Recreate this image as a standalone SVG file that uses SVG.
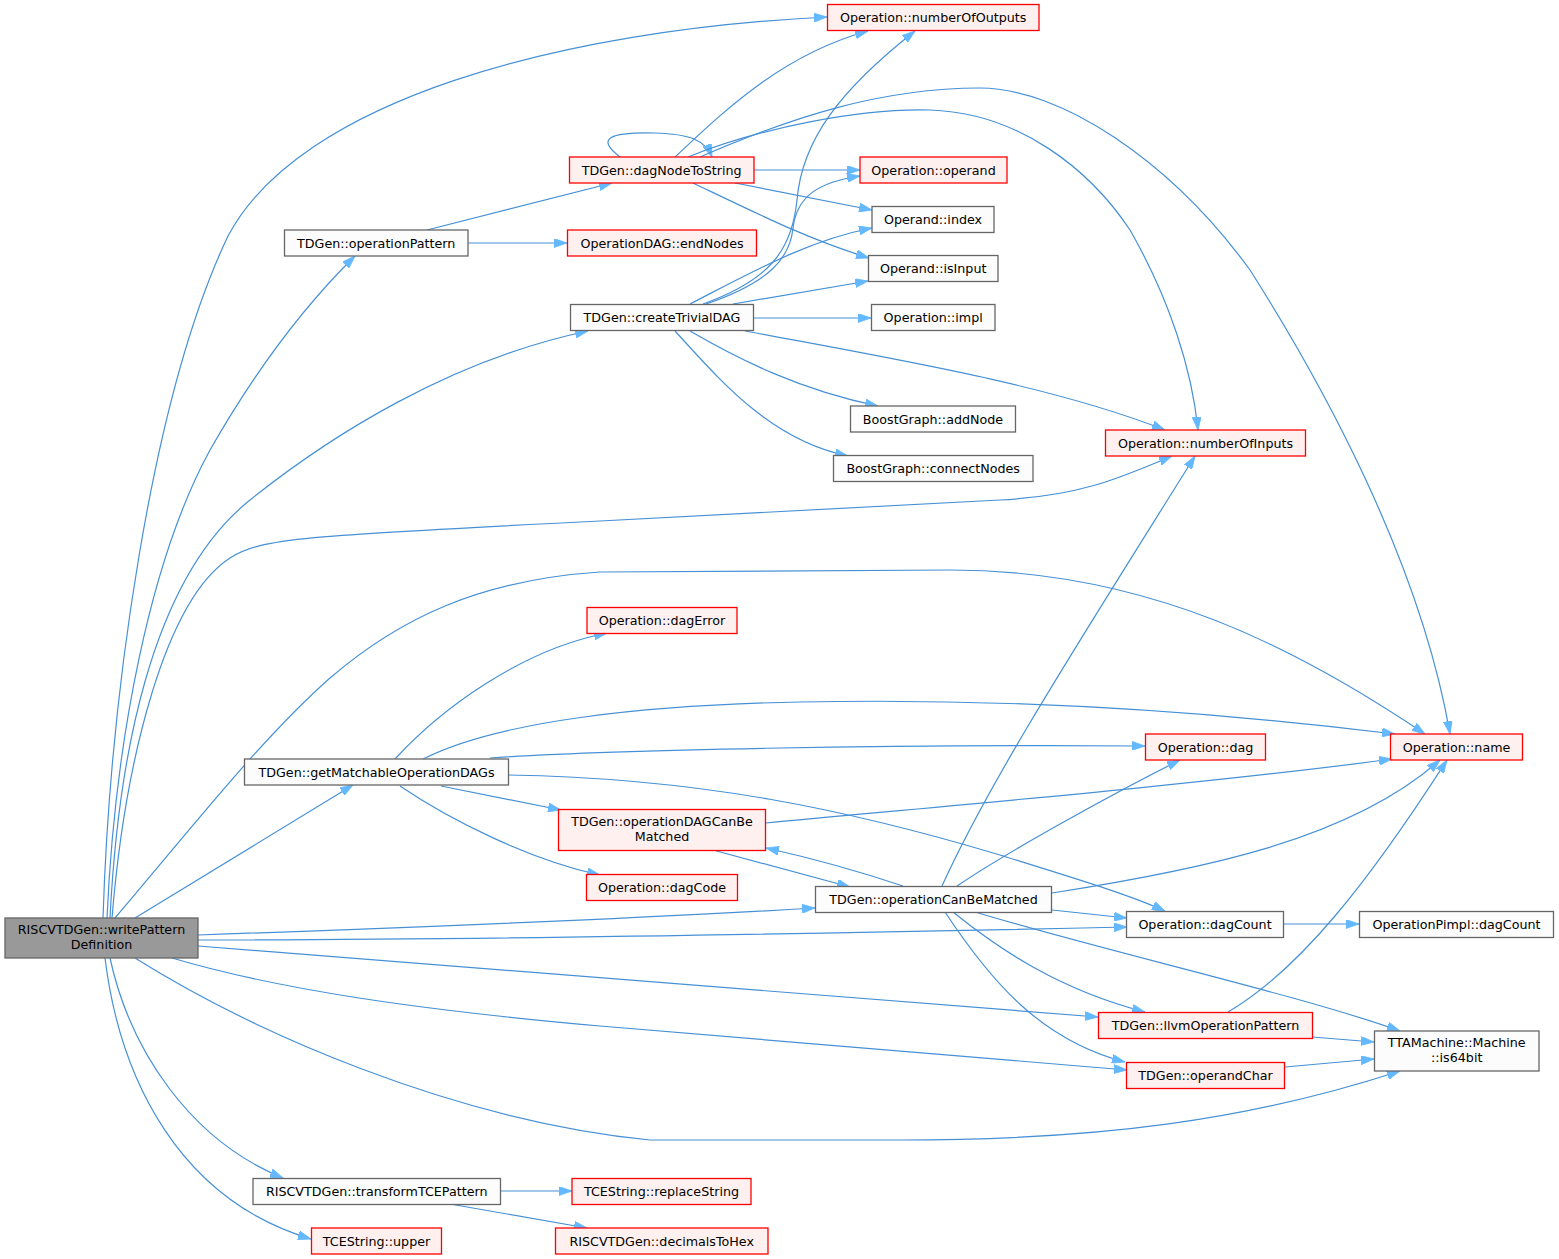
<svg xmlns="http://www.w3.org/2000/svg" width="1559" height="1259" viewBox="0 0 1559 1259">
<style>
.n rect{stroke-width:1.3}
.w rect{fill:#fbfcfb;stroke:#666666}
.r rect{fill:#fff0f0;stroke:#ff0000}
.g rect{fill:#999999;stroke:#666666}
text{font-family:"DejaVu Sans","Liberation Sans",sans-serif;font-size:12.7px;fill:#000;text-anchor:middle}
#edges path{fill:none;stroke:#4690d6;stroke-width:1.2;marker-end:url(#arr)}
</style>
<defs>
<marker id="arr" viewBox="0 0 13 9" refX="13" refY="4.5" markerWidth="13" markerHeight="9" markerUnits="userSpaceOnUse" orient="auto">
<path d="M0,0 L13,4.5 L0,9 z" fill="#63b8ff" stroke="#63b8ff" stroke-width="0.8"/>
</marker>
</defs>
<rect width="1559" height="1259" fill="#ffffff"/>
<g id="edges">
<path d="M103,918 C110,700 150,400 228,236 C300,100 560,30 827,17"/>
<path d="M107,918 C115,740 150,560 210,450 C250,380 300,310 355,256"/>
<path d="M110,918 C118,760 150,580 250,500 C330,436 450,360 588,331"/>
<path d="M112,918 C125,760 165,600 230,558 C262,538 300,536 600,521 L1000,500 C1080,496 1120,478 1172,456"/>
<path d="M115,918 C190,830 260,740 330,678 C400,618 480,580 600,572 L950,570 C1150,570 1300,650 1425,734"/>
<path d="M135,918 L353,785"/>
<path d="M198,935 C400,928 650,918 815,908"/>
<path d="M198,940 C500,940 900,932 1127,927"/>
<path d="M198,946 L1098,1017"/>
<path d="M172,958 C280,990 420,1010 600,1026 C800,1044 1000,1060 1127,1070"/>
<path d="M135,958 C250,1030 450,1120 650,1140 L900,1140 C1100,1140 1250,1120 1400,1071"/>
<path d="M110,958 C130,1050 190,1140 283,1178"/>
<path d="M105,958 C120,1080 180,1200 311,1239"/>
<path d="M427,230 L612,183"/>
<path d="M468,243 L567,243"/>
<path d="M620,157 C595,138 610,132 655,133 C690,134 705,140 712,157"/>
<path d="M675,157 C720,115 780,55 868,31"/>
<path d="M754,170 L860,170"/>
<path d="M735,183 L872,210"/>
<path d="M693,183 C760,215 810,240 869,258"/>
<path d="M688,157 C760,128 860,108 930,110 C1020,113 1090,170 1130,230 C1170,300 1192,370 1198,430"/>
<path d="M700,157 C790,118 880,88 980,88 C1060,88 1170,160 1250,270 C1320,380 1420,560 1450,734"/>
<path d="M703,304 C770,280 792,250 797,200 C802,140 840,90 915,31"/>
<path d="M706,304 C770,282 790,258 793,228 C797,195 820,182 860,176"/>
<path d="M690,304 C760,268 810,240 872,228"/>
<path d="M733,304 L868,281"/>
<path d="M754,318 L871,318"/>
<path d="M690,331 C740,360 800,390 878,406"/>
<path d="M675,331 C720,380 770,440 848,456"/>
<path d="M745,331 C900,360 1050,385 1165,430"/>
<path d="M395,759 C440,710 520,650 607,633"/>
<path d="M423,759 C500,720 650,705 800,702 C1000,698 1200,710 1395,734"/>
<path d="M490,758 C600,750 900,744 1145,746"/>
<path d="M441,786 L561,810"/>
<path d="M400,786 C450,820 530,860 600,875"/>
<path d="M508,775 C700,778 850,810 1000,855 C1080,880 1130,895 1165,911"/>
<path d="M766,823 C900,810 1200,785 1392,759"/>
<path d="M713,850 L850,887"/>
<path d="M903,886 C870,875 820,860 766,848"/>
<path d="M942,886 C990,780 1080,640 1195,456"/>
<path d="M957,886 C1010,850 1120,790 1180,760"/>
<path d="M1052,893 C1200,870 1350,840 1440,760"/>
<path d="M1052,910 L1127,918"/>
<path d="M953,912 C1000,950 1060,990 1145,1012"/>
<path d="M945,912 C990,980 1040,1040 1125,1062"/>
<path d="M975,912 C1100,950 1300,995 1400,1031"/>
<path d="M1283,924 L1359,924"/>
<path d="M1228,1012 C1300,970 1370,880 1447,760"/>
<path d="M1312,1037 L1374,1042"/>
<path d="M1285,1067 L1374,1059"/>
<path d="M500,1191 L572,1191"/>
<path d="M450,1204 L587,1228"/>
</g>
<g id="n_writePatternDefinition" class="n g"><rect x="5" y="918" width="193" height="40"/><text x="101.5" y="933.5">RISCVTDGen::writePattern</text><text x="101.5" y="948.5">Definition</text></g>
<g id="n_numberOfOutputs" class="n r"><rect x="827.5" y="4.5" width="211.5" height="26"/><text x="933.2" y="22">Operation::numberOfOutputs</text></g>
<g id="n_dagNodeToString" class="n r"><rect x="569.5" y="157" width="184.5" height="26"/><text x="661.7" y="174.5">TDGen::dagNodeToString</text></g>
<g id="n_operand" class="n r"><rect x="860" y="157" width="147" height="26"/><text x="933.5" y="174.5">Operation::operand</text></g>
<g id="n_index" class="n w"><rect x="872" y="206.5" width="122" height="26"/><text x="933" y="224">Operand::index</text></g>
<g id="n_operationPattern" class="n w"><rect x="284.5" y="230" width="183.5" height="26"/><text x="376.2" y="247.5">TDGen::operationPattern</text></g>
<g id="n_endNodes" class="n r"><rect x="567.5" y="230" width="189" height="26"/><text x="662" y="247.5">OperationDAG::endNodes</text></g>
<g id="n_isInput" class="n w"><rect x="868.5" y="255.5" width="129.5" height="26"/><text x="933.2" y="273">Operand::isInput</text></g>
<g id="n_createTrivialDAG" class="n w"><rect x="570.5" y="304.5" width="183" height="26"/><text x="662" y="322">TDGen::createTrivialDAG</text></g>
<g id="n_impl" class="n w"><rect x="871.5" y="304.5" width="123.5" height="26"/><text x="933.2" y="322">Operation::impl</text></g>
<g id="n_addNode" class="n w"><rect x="850.5" y="406" width="165" height="26"/><text x="933" y="423.5">BoostGraph::addNode</text></g>
<g id="n_numberOfInputs" class="n r"><rect x="1105.5" y="430" width="200" height="26"/><text x="1205.5" y="447.5">Operation::numberOfInputs</text></g>
<g id="n_connectNodes" class="n w"><rect x="833.5" y="455.5" width="199.5" height="26"/><text x="933.2" y="473">BoostGraph::connectNodes</text></g>
<g id="n_dagError" class="n r"><rect x="587" y="607.5" width="150" height="26"/><text x="662" y="625">Operation::dagError</text></g>
<g id="n_dag" class="n r"><rect x="1145.5" y="734" width="120" height="26"/><text x="1205.5" y="751.5">Operation::dag</text></g>
<g id="n_name" class="n r"><rect x="1390.5" y="734" width="132" height="26"/><text x="1456.5" y="751.5">Operation::name</text></g>
<g id="n_getMatchableOperationDAGs" class="n w"><rect x="244.5" y="759" width="264" height="26"/><text x="376.5" y="776.5">TDGen::getMatchableOperationDAGs</text></g>
<g id="n_operationDAGCanBeMatched" class="n r"><rect x="558.5" y="809.5" width="207" height="41"/><text x="662" y="826">TDGen::operationDAGCanBe</text><text x="662" y="841">Matched</text></g>
<g id="n_dagCode" class="n r"><rect x="586.5" y="874.5" width="151" height="26"/><text x="662" y="892">Operation::dagCode</text></g>
<g id="n_operationCanBeMatched" class="n w"><rect x="815.5" y="886.5" width="236" height="26"/><text x="933.5" y="904">TDGen::operationCanBeMatched</text></g>
<g id="n_dagCount" class="n w"><rect x="1126.5" y="911.5" width="157" height="26"/><text x="1205" y="929">Operation::dagCount</text></g>
<g id="n_pimplDagCount" class="n w"><rect x="1359.5" y="911.5" width="194" height="26"/><text x="1456.5" y="929">OperationPimpl::dagCount</text></g>
<g id="n_llvmOperationPattern" class="n r"><rect x="1098.5" y="1012.5" width="214" height="26"/><text x="1205.5" y="1030">TDGen::llvmOperationPattern</text></g>
<g id="n_is64bit" class="n w"><rect x="1374.5" y="1031" width="164.5" height="40"/><text x="1456.7" y="1046.5">TTAMachine::Machine</text><text x="1456.7" y="1061.5">::is64bit</text></g>
<g id="n_operandChar" class="n r"><rect x="1126.5" y="1062.5" width="158" height="26"/><text x="1205.5" y="1080">TDGen::operandChar</text></g>
<g id="n_transformTCEPattern" class="n w"><rect x="253" y="1178.5" width="247.5" height="26"/><text x="376.7" y="1196">RISCVTDGen::transformTCEPattern</text></g>
<g id="n_replaceString" class="n r"><rect x="572" y="1178.5" width="179" height="26"/><text x="661.5" y="1196">TCEString::replaceString</text></g>
<g id="n_upper" class="n r"><rect x="311.5" y="1228" width="130" height="26"/><text x="376.5" y="1245.5">TCEString::upper</text></g>
<g id="n_decimalsToHex" class="n r"><rect x="555.5" y="1228" width="212.5" height="26"/><text x="661.7" y="1245.5">RISCVTDGen::decimalsToHex</text></g>
</svg>
